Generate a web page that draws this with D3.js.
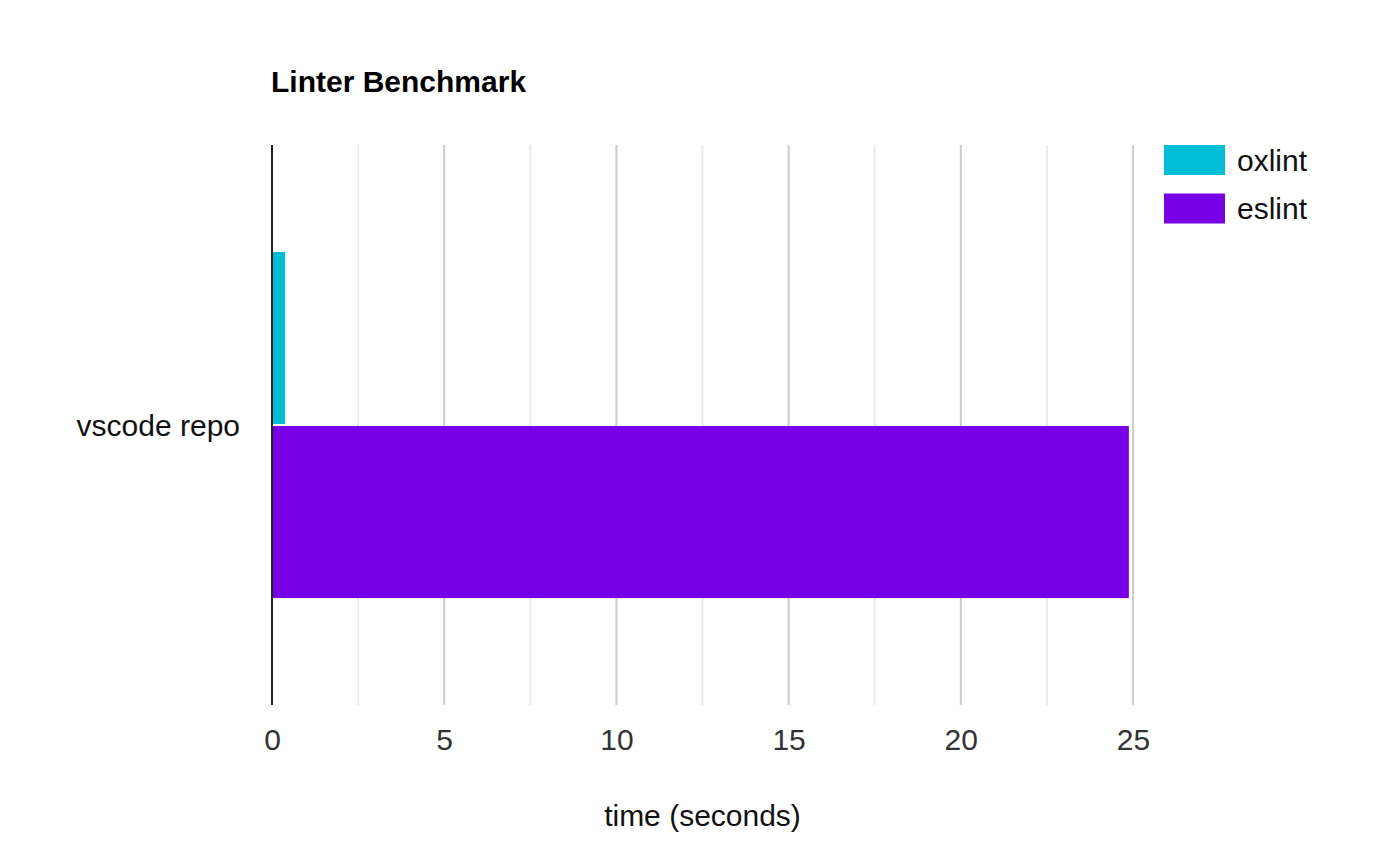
<!DOCTYPE html>
<html>
<head>
<meta charset="utf-8">
<script src="https://cdn.jsdelivr.net/npm/d3@7"></script>
<style>
  body { margin: 0; background: #fff; }
  text { font-family: "Liberation Sans", Arial, sans-serif; }
</style>
</head>
<body>
<svg id="chart" width="1400" height="861"></svg>
<script>
// data
var categories = ["vscode repo"];
var seriesNames = ["oxlint", "eslint"];
var oxlintValues = [0.38];
var eslintValues = [24.88];
var seriesColors = ["#00bcd4", "#7700e6"];
var xTicks = [0, 5, 10, 15, 20, 25];
var xMinorTicks = [2.5, 7.5, 12.5, 17.5, 22.5];

var rows = categories.map(function(c, i) {
    return { name: c, values: [oxlintValues[i], eslintValues[i]] };
});

var svg = d3.select("#chart");
var plotLeft = 272, plotRight = 1133, plotTop = 145, plotBottom = 705;

var x = d3.scaleLinear().domain([0, 25]).range([plotLeft, plotRight]);
var y = d3.scaleBand().domain(categories).range([plotTop, plotBottom]).paddingInner(0).paddingOuter(0.309);
var ySub = d3.scaleBand().domain(seriesNames).range([0, y.bandwidth()]).paddingInner(0.012);
var color = d3.scaleOrdinal().domain(seriesNames).range(seriesColors);

// title
svg.append("text")
    .attr("x", 271).attr("y", 92)
    .attr("font-size", "30px").attr("font-weight", "bold")
    .attr("fill", "#000")
    .text("Linter Benchmark");

// grid lines: minor ones lighter
svg.append("g").selectAll("line").data(xMinorTicks).enter().append("line")
    .attr("x1", d => x(d)).attr("x2", d => x(d))
    .attr("y1", plotTop).attr("y2", plotBottom)
    .attr("stroke", "#ebebeb").attr("stroke-width", 2);

svg.append("g").selectAll("line").data(xTicks.filter(d => d > 0)).enter().append("line")
    .attr("x1", d => x(d)).attr("x2", d => x(d))
    .attr("y1", plotTop).attr("y2", plotBottom)
    .attr("stroke", "#cccccc").attr("stroke-width", 2);

// bars
var grp = svg.append("g").selectAll("g").data(rows).enter().append("g")
    .attr("transform", d => "translate(0," + y(d.name) + ")");

grp.selectAll("rect")
    .data(d => d.values.map((v, i) => ({ key: seriesNames[i], value: v })))
    .enter().append("rect")
    .attr("x", x(0) + 1)
    .attr("y", d => ySub(d.key))
    .attr("width", d => x(d.value) - x(0) - 1)
    .attr("height", ySub.bandwidth())
    .attr("fill", d => color(d.key));

// baseline axis
svg.append("line")
    .attr("x1", x(0)).attr("x2", x(0))
    .attr("y1", plotTop).attr("y2", plotBottom)
    .attr("stroke", "#222").attr("stroke-width", 2);

// x axis labels
var xAxis = d3.axisBottom(x).tickValues(xTicks).tickSize(0).tickPadding(0);
var gx = svg.append("g").attr("transform", "translate(0," + plotBottom + ")").call(xAxis);
gx.select(".domain").remove();
gx.selectAll("text")
    .attr("y", 45).attr("dy", null)
    .attr("font-size", "30px")
    .attr("font-family", "Liberation Sans, Arial, sans-serif")
    .attr("fill", "#333");

// category labels
svg.append("g").selectAll("text").data(categories).enter().append("text")
    .attr("x", 240)
    .attr("y", d => y(d) + y.bandwidth() / 2 + 10.5)
    .attr("text-anchor", "end")
    .attr("font-size", "30px")
    .attr("fill", "#111")
    .text(d => d);

// axis title
svg.append("text")
    .attr("x", (plotLeft + plotRight) / 2).attr("y", 826)
    .attr("text-anchor", "middle")
    .attr("font-size", "30px")
    .attr("fill", "#111")
    .text("time (seconds)");

// legend
var leg = svg.append("g").selectAll("g").data(seriesNames).enter().append("g")
    .attr("transform", (d, i) => "translate(1164," + (145 + i * 48.5) + ")");
leg.append("rect")
    .attr("width", 61).attr("height", 30)
    .attr("fill", d => color(d));
leg.append("text")
    .attr("x", 73).attr("y", 25.5)
    .attr("font-size", "30px")
    .attr("fill", "#111")
    .text(d => d);
</script>
</body>
</html>
